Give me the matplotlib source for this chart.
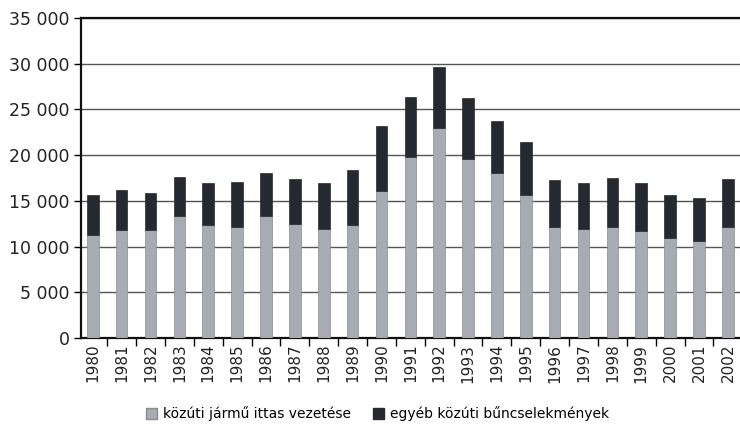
import numpy as np
import matplotlib.pyplot as plt
from matplotlib.patches import Patch

years = [str(y) for y in range(1980, 2003)]
# közúti jármű ittas vezetése (light) and total height
ittas = [11300, 11800, 11800, 13300, 12400, 12200, 13300, 12500, 11900, 12400,
         16100, 19800, 23000, 19600, 18000, 15700, 12100, 11900, 12100, 11700,
         10900, 10600, 12200]
total = [15600, 16200, 15900, 17600, 17000, 17100, 18100, 17400, 17000, 18400,
         23200, 26400, 29600, 26200, 23700, 21400, 17300, 17000, 17500, 17000,
         15700, 15300, 17400]
egyeb = [t - i for t, i in zip(total, ittas)]

labels = ['közúti jármű ittas vezetése', 'egyéb közúti bűncselekmények']
light = '#a9abb2'
dark = '#26292f'

fig = plt.figure(figsize=(7.4, 4.28), dpi=100)
ax = fig.add_axes([0.109, 0.21, 0.891, 0.748])

x = np.arange(len(years))
ax.bar(x, ittas, width=0.4, color=light, edgecolor='#8a8c92', linewidth=0.5, zorder=3)
ax.bar(x, egyeb, width=0.4, bottom=ittas, color=dark, edgecolor=dark, linewidth=0.5, zorder=3)

ax.set_ylim(0, 35000)
ax.set_xlim(-0.42, len(years) - 0.58)
ax.set_yticks(range(0, 35001, 5000))
ax.set_yticklabels([f'{v:,}'.replace(',', ' ') for v in range(0, 35001, 5000)], fontsize=12.5, color='#222222')
ax.yaxis.grid(True, color='#555555', linewidth=1.0, zorder=0)
ax.tick_params(axis='y', length=5, width=1, pad=3)

ax.set_xticks(x)
ax.set_xticklabels(years, rotation=90, fontsize=11, color='#222222')
ax.set_xticks(x[:-1] + 0.5, minor=True)
ax.tick_params(axis='x', which='major', length=0, pad=4)
ax.tick_params(axis='x', which='minor', length=6, width=1, direction='out')

for side in ['top', 'left', 'bottom']:
    ax.spines[side].set_linewidth(1.6)
    ax.spines[side].set_color('#111111')
ax.spines['right'].set_visible(False)

handles = [Patch(facecolor=light, edgecolor='#8a8c92'), Patch(facecolor=dark, edgecolor=dark)]
fig.legend(handles, labels, loc='center', bbox_to_anchor=(0.51, 0.033), ncol=2, frameon=False,
           fontsize=10, handlelength=0.8, handleheight=0.8, handletextpad=0.4, columnspacing=1.6)

fig.savefig('out.png', dpi=100)
